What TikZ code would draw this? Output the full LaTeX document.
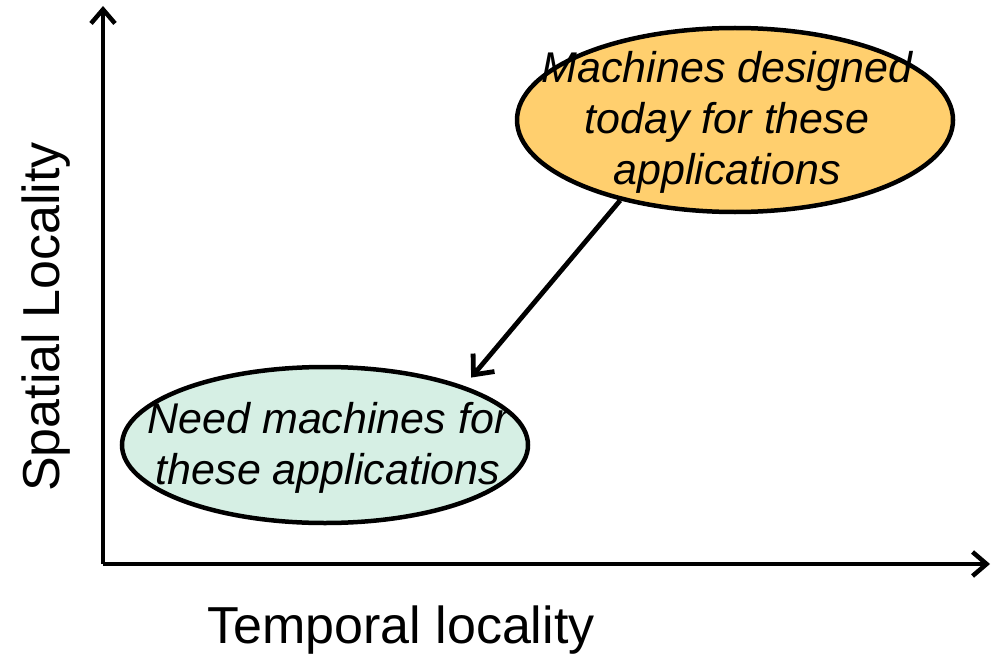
\documentclass[tikz,border=0pt]{standalone}
\usepackage{fontspec}
\setmainfont{Liberation Sans}
\usetikzlibrary{arrows.meta,shapes.geometric}
\definecolor{ovalorange}{RGB}{255,207,110}
\definecolor{ovalgreen}{RGB}{214,239,228}
\tikzset{
  axisline/.style={line width=4.5pt,-{Straight Barb[length=14pt,width=24pt,line width=4.5pt]}},
  oval/.style={ellipse,draw=black,line width=4.5pt,inner sep=0pt},
  ovaltext/.style={font=\fontsize{43}{51}\selectfont\itshape,align=center,inner sep=0pt},
  axislabel/.style={font=\fontsize{52}{60}\selectfont,inner sep=0pt},
  link/.style={line width=4.8pt,-{Straight Barb[length=16pt,width=28pt,line width=4.8pt]}}
}
\begin{document}
\begin{tikzpicture}[x=1pt,y=-1pt]
  \useasboundingbox (0,0) rectangle (992,658);
  % axes
  \coordinate (origin) at (103,564);
  \coordinate (ytop) at (103,6);
  \coordinate (xend) at (990,564);
  \draw[axisline] (origin) -- (ytop);
  \draw[axisline] (origin) -- (xend);
  \node[axislabel,rotate=90] (ylab) at (46,317) {Spatial Locality};
  \node[axislabel] (xlab) at (401,630) {Temporal locality};
  % ovals
  \node[oval,fill=ovalorange,minimum width=436pt,minimum height=184pt] (today) at (735,120) {};
  \node[ovaltext] (todaytxt) at (727,122) {Machines designed\\today for these\\applications};
  \node[oval,fill=ovalgreen,minimum width=406pt,minimum height=156pt] (need) at (325,445) {};
  \node[ovaltext] (needtxt) at (328,448) {Need machines for\\these applications};
  % arrow between ovals
  \draw[link,shorten >=11pt] (today.215) -- (need.23);
\end{tikzpicture}
\end{document}
